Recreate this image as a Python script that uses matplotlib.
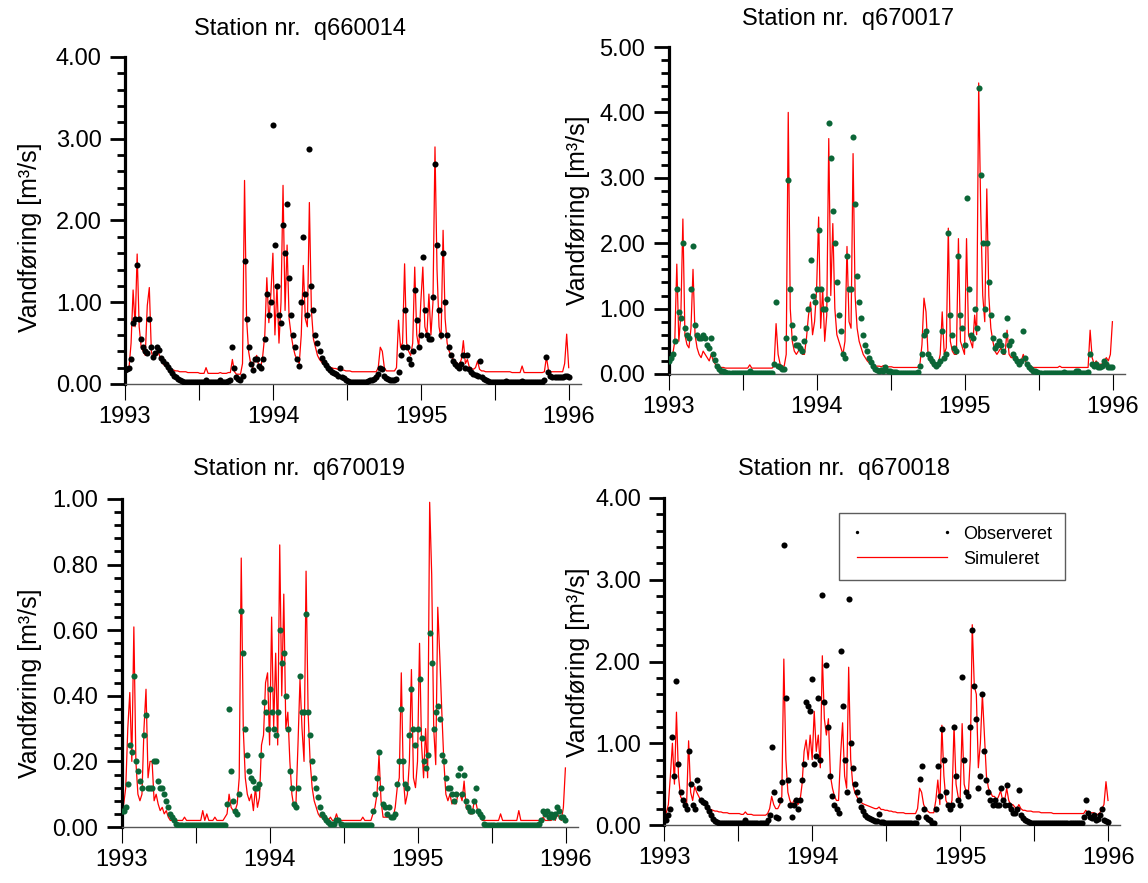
import numpy as np
import matplotlib
matplotlib.use("Agg")
import matplotlib.pyplot as plt
from matplotlib.ticker import MultipleLocator, FuncFormatter

plt.rcParams['font.family'] = ['Liberation Sans', 'DejaVu Sans']

# ---------------- data (5-day steps from 1 Jan 1993) ----------------
STEP_DAYS = 5
N_STEPS = 220
years = 1993 + np.arange(N_STEPS) * STEP_DAYS / 365.25

stations = ['q660014', 'q670017', 'q670019', 'q670018']
ylimits = [4.0, 5.0, 1.0, 4.0]
obs_colors = ['black', '#0b6637', '#0b6637', 'black']

obs_q660014 = [
    0.17, 0.18, 0.2, 0.3, 0.75, 0.8, 1.45, 0.8, 0.55, 0.45,
    0.4, 0.38, 0.8, 0.45, 0.33, 0.38, 0.45, 0.42, 0.32, 0.28,
    0.25, 0.21, 0.17, 0.13, 0.1, 0.08, 0.06, 0.05, 0.04, 0.03,
    0.03, 0.02, 0.02, 0.02, 0.02, 0.02, 0.02, 0.02, 0.02, 0.02,
    0.05, 0.02, 0.02, 0.02, 0.03, 0.02, 0.02, 0.05, 0.02, 0.02,
    0.03, 0.04, 0.05, 0.45, 0.2, 0.08, 0.06, 0.05, 0.1, 1.5,
    0.8, 0.45, 0.25, 0.17, 0.3, 0.3, 0.22, 0.2, 0.3, 0.55,
    1.1, 0.85, 1.0, 3.17, 1.7, 1.2, 0.85, 0.75, 1.95, 1.6,
    2.2, 1.3, 0.85, 0.6, 0.45, 0.3, 0.22, 1.0, 1.8, 1.1,
    0.85, 2.87, 1.2, 0.9, 0.6, 0.5, 0.4, 0.32, 0.27, 0.23,
    0.2, 0.17, 0.15, 0.13, 0.12, 0.1, 0.2, 0.09, 0.07, 0.05,
    0.04, 0.03, 0.03, 0.03, 0.03, 0.03, 0.03, 0.03, 0.03, 0.03,
    0.04, 0.05, 0.05, 0.06, 0.08, 0.12, 0.2, 0.18, 0.1, 0.07,
    0.06, 0.05, 0.05, 0.05, 0.06, 0.15, 0.35, 0.45, 0.9, 0.45,
    0.3, 0.25, 0.4, 1.15, 0.78, 0.45, 0.6, 1.55, 0.9, 0.6,
    0.55, 0.55, 1.06, 2.69, 1.7, 0.9, 0.6, 1.6, 1.0, 0.6,
    0.45, 0.35, 0.28, 0.25, 0.22, 0.2, 0.25, 0.35, 0.2, 0.35,
    0.18, 0.15, 0.12, 0.11, 0.1, 0.28, 0.08, 0.06, 0.05, 0.04,
    0.03, 0.03, 0.02, 0.02, 0.03, 0.02, 0.02, 0.02, 0.04, 0.02,
    0.02, 0.02, 0.03, 0.02, 0.02, 0.02, 0.04, 0.02, 0.02, 0.02,
    0.02, 0.03, 0.02, 0.02, 0.02, 0.02, 0.03, 0.05, 0.33, 0.15,
    0.1, 0.08, 0.08, 0.08, 0.08, 0.08, 0.08, 0.1, 0.1, 0.09,
]
sim_q660014 = [
    0.15, 0.15, 0.2, 0.5, 1.15, 0.7, 1.59, 0.7, 0.45, 0.4,
    0.35, 0.96, 1.18, 0.4, 0.3, 0.35, 0.42, 0.35, 0.28, 0.24,
    0.22, 0.2, 0.2, 0.18, 0.17, 0.16, 0.16, 0.15, 0.15, 0.15,
    0.15, 0.14, 0.14, 0.14, 0.14, 0.14, 0.14, 0.13, 0.13, 0.13,
    0.2, 0.13, 0.13, 0.13, 0.13, 0.13, 0.13, 0.14, 0.13, 0.13,
    0.13, 0.14, 0.14, 0.3, 0.15, 0.12, 0.12, 0.12, 0.25, 2.49,
    0.8, 0.4, 0.25, 0.2, 0.3, 0.35, 0.22, 0.2, 0.35, 0.6,
    1.3, 0.75, 1.1, 1.6, 0.6, 1.2, 0.5, 1.0, 2.43, 0.9,
    1.7, 0.8, 0.6, 0.45, 0.35, 0.3, 0.25, 0.6, 1.45, 0.8,
    0.7, 2.22, 0.9, 0.55, 0.45, 0.35, 0.3, 0.27, 0.24, 0.22,
    0.21, 0.2, 0.2, 0.19, 0.19, 0.18, 0.18, 0.17, 0.17, 0.16,
    0.16, 0.16, 0.15, 0.15, 0.15, 0.15, 0.15, 0.15, 0.15, 0.15,
    0.15, 0.15, 0.15, 0.15, 0.15, 0.2, 0.45, 0.4, 0.2, 0.16,
    0.16, 0.16, 0.16, 0.16, 0.2, 0.78, 0.45, 0.5, 1.47, 0.5,
    0.4, 0.35, 0.5, 1.43, 0.6, 0.45, 1.0, 1.43, 0.7, 0.6,
    1.1, 0.6, 1.0, 2.9, 1.4, 0.7, 0.55, 1.88, 0.8, 0.5,
    0.4, 0.35, 0.3, 0.28, 0.25, 0.24, 0.3, 0.53, 0.25, 0.3,
    0.2, 0.19, 0.18, 0.2, 0.28, 0.18, 0.16, 0.16, 0.15, 0.15,
    0.15, 0.15, 0.15, 0.15, 0.15, 0.15, 0.15, 0.15, 0.15, 0.15,
    0.15, 0.14, 0.14, 0.14, 0.14, 0.14, 0.22, 0.14, 0.14, 0.14,
    0.14, 0.14, 0.14, 0.14, 0.14, 0.14, 0.14, 0.15, 0.33, 0.17,
    0.15, 0.15, 0.15, 0.15, 0.15, 0.15, 0.15, 0.25, 0.61, 0.2,
]

obs_q670017 = [
    0.2, 0.25, 0.3, 0.5, 1.3, 0.95, 0.85, 2.0, 0.7, 0.6,
    0.55, 1.3, 1.95, 0.75, 0.6, 0.55, 0.55, 0.6, 0.55, 0.45,
    0.4, 0.55, 0.3, 0.22, 0.12, 0.08, 0.05, 0.04, 0.03, 0.01,
    0.01, 0.01, 0.01, 0.01, 0.01, 0.01, 0.01, 0.01, 0.01, 0.01,
    0.04, 0.01, 0.01, 0.01, 0.01, 0.01, 0.01, 0.01, 0.01, 0.01,
    0.01, 0.01, 0.15, 1.1, 0.12, 0.1, 0.07, 0.08, 0.55, 2.97,
    1.3, 0.75, 0.55, 0.45, 0.45, 0.4, 0.35, 0.5, 0.7, 1.0,
    1.75, 1.2, 1.1, 1.3, 2.2, 1.3, 1.0, 1.0, 1.15, 3.84,
    3.3, 2.5, 2.0, 1.4, 0.9, 0.65, 0.3, 0.25, 1.8, 1.3,
    1.3, 3.63, 2.6, 1.5, 1.1, 0.85, 0.6, 0.45, 0.35, 0.25,
    0.18, 0.12, 0.08, 0.06, 0.05, 0.06, 0.05, 0.1, 0.04, 0.04,
    0.03, 0.03, 0.03, 0.02, 0.02, 0.02, 0.02, 0.02, 0.02, 0.02,
    0.02, 0.02, 0.02, 0.03, 0.12, 0.3, 0.6, 0.65, 0.3, 0.25,
    0.2, 0.15, 0.12, 0.15, 0.2, 0.65, 0.25, 0.3, 2.15, 0.9,
    0.6, 0.4, 0.35, 1.8, 0.9, 0.7, 0.45, 2.69, 1.3, 0.6,
    0.55, 1.0, 0.7, 4.37, 3.04, 2.0, 1.0, 2.0, 1.4, 0.9,
    0.55, 0.4, 0.45, 0.5, 0.45, 0.35, 0.6, 0.85, 0.45, 0.5,
    0.3, 0.25, 0.2, 0.15, 0.2, 0.65, 0.25, 0.15, 0.1, 0.08,
    0.05, 0.04, 0.03, 0.02, 0.02, 0.02, 0.02, 0.02, 0.02, 0.02,
    0.02, 0.02, 0.02, 0.02, 0.02, 0.03, 0.02, 0.02, 0.02, 0.02,
    0.02, 0.05, 0.04, 0.02, 0.02, 0.02, 0.02, 0.03, 0.3, 0.15,
    0.12, 0.15, 0.1, 0.1, 0.12, 0.2, 0.15, 0.1, 0.1, 0.1,
]
sim_q670017 = [
    0.24, 0.2, 0.3, 0.5, 1.68, 0.5, 0.9, 2.37, 0.6, 0.45,
    0.4, 0.7, 1.6, 0.6, 0.4, 0.3, 0.25, 0.35, 0.3, 0.25,
    0.2, 0.3, 0.2, 0.15, 0.12, 0.11, 0.1, 0.1, 0.09, 0.09,
    0.09, 0.09, 0.09, 0.09, 0.09, 0.09, 0.09, 0.09, 0.09, 0.09,
    0.14, 0.09, 0.09, 0.09, 0.09, 0.09, 0.09, 0.09, 0.09, 0.09,
    0.09, 0.09, 0.12, 0.77, 0.3, 0.15, 0.12, 0.12, 0.3, 4.0,
    1.0, 0.5, 0.35, 0.3, 0.35, 0.4, 0.3, 0.3, 0.55, 0.9,
    1.1, 0.6, 0.8, 1.3, 2.4, 0.7, 1.3, 0.5, 0.9, 3.6,
    1.2, 2.3, 1.0, 0.6, 0.5, 0.4, 0.3, 0.5, 1.95, 0.8,
    0.7, 3.37, 1.2, 0.7, 0.5, 0.4, 0.3, 0.25, 0.2, 0.17,
    0.15, 0.14, 0.12, 0.12, 0.12, 0.11, 0.13, 0.11, 0.11, 0.11,
    0.11, 0.1, 0.1, 0.1, 0.1, 0.1, 0.1, 0.1, 0.1, 0.1,
    0.1, 0.1, 0.1, 0.1, 0.15, 0.45, 1.16, 0.95, 0.3, 0.2,
    0.15, 0.15, 0.12, 0.15, 0.3, 0.95, 0.3, 0.4, 2.23, 0.5,
    0.35, 0.3, 0.3, 2.07, 0.5, 0.4, 0.3, 2.07, 0.6, 0.5,
    0.4, 0.9, 0.6, 4.45, 2.5, 1.2, 0.8, 2.83, 1.2, 0.7,
    0.5, 0.35, 0.3, 0.35, 0.4, 0.3, 0.3, 0.67, 0.3, 0.25,
    0.25, 0.2, 0.2, 0.17, 0.2, 0.3, 0.2, 0.15, 0.12, 0.11,
    0.1, 0.1, 0.1, 0.1, 0.1, 0.1, 0.1, 0.1, 0.1, 0.1,
    0.1, 0.1, 0.1, 0.12, 0.1, 0.1, 0.1, 0.1, 0.1, 0.1,
    0.1, 0.1, 0.1, 0.1, 0.1, 0.1, 0.1, 0.1, 0.67, 0.25,
    0.15, 0.2, 0.15, 0.15, 0.15, 0.2, 0.25, 0.2, 0.3, 0.8,
]

obs_q670019 = [
    0.05, 0.05, 0.06, 0.13, 0.25, 0.23, 0.46, 0.2, 0.17, 0.14,
    0.12, 0.28, 0.34, 0.12, 0.12, 0.12, 0.2, 0.2, 0.14, 0.12,
    0.12, 0.1, 0.08, 0.06, 0.04, 0.03, 0.02, 0.01, 0.005, 0.005,
    0.005, 0.005, 0.005, 0.005, 0.005, 0.005, 0.005, 0.005, 0.005, 0.005,
    0.005, 0.005, 0.005, 0.005, 0.005, 0.005, 0.005, 0.005, 0.005, 0.005,
    0.005, 0.005, 0.07, 0.36, 0.17, 0.08, 0.05, 0.04, 0.1, 0.66,
    0.53, 0.3, 0.22, 0.17, 0.15, 0.14, 0.12, 0.12, 0.13, 0.22,
    0.38, 0.35, 0.3, 0.42, 0.35, 0.3, 0.28, 0.35, 0.6, 0.5,
    0.53, 0.4, 0.3, 0.17, 0.12, 0.07, 0.06, 0.12, 0.46, 0.35,
    0.35, 0.65, 0.35, 0.28, 0.2, 0.15, 0.12, 0.09, 0.06, 0.04,
    0.03, 0.02, 0.015, 0.01, 0.01, 0.01, 0.02, 0.02, 0.01, 0.005,
    0.005, 0.005, 0.005, 0.005, 0.005, 0.005, 0.005, 0.005, 0.005, 0.005,
    0.005, 0.005, 0.005, 0.005, 0.05, 0.1, 0.15, 0.23, 0.12, 0.07,
    0.06, 0.04, 0.06, 0.03, 0.03, 0.04, 0.13, 0.2, 0.36, 0.2,
    0.13, 0.12, 0.28, 0.42, 0.3, 0.25, 0.3, 0.45, 0.27, 0.2,
    0.18, 0.22, 0.59, 0.5, 0.3, 0.35, 0.37, 0.33, 0.22, 0.2,
    0.15, 0.12, 0.12, 0.1, 0.08, 0.1, 0.16, 0.18, 0.1, 0.16,
    0.08, 0.06, 0.05, 0.05, 0.08, 0.12, 0.05, 0.04, 0.03, 0.01,
    0.005, 0.005, 0.005, 0.005, 0.005, 0.005, 0.005, 0.005, 0.005, 0.005,
    0.005, 0.005, 0.005, 0.005, 0.005, 0.005, 0.005, 0.005, 0.005, 0.005,
    0.005, 0.005, 0.005, 0.005, 0.005, 0.005, 0.01, 0.02, 0.05, 0.04,
    0.05, 0.03, 0.04, 0.03, 0.04, 0.06, 0.05, 0.03, 0.03, 0.02,
]
sim_q670019 = [
    0.05, 0.07, 0.12, 0.3, 0.41, 0.2, 0.61, 0.2, 0.1, 0.08,
    0.1, 0.3, 0.42, 0.15, 0.2, 0.2, 0.08, 0.1, 0.07, 0.05,
    0.06, 0.04, 0.05, 0.03, 0.02, 0.02, 0.02, 0.02, 0.02, 0.02,
    0.02, 0.03, 0.02, 0.02, 0.02, 0.02, 0.02, 0.02, 0.02, 0.02,
    0.05, 0.02, 0.04, 0.02, 0.02, 0.02, 0.03, 0.02, 0.02, 0.02,
    0.02, 0.03, 0.04, 0.1, 0.06, 0.05, 0.05, 0.07, 0.15, 0.82,
    0.3, 0.15, 0.1, 0.08, 0.1, 0.05, 0.12, 0.06, 0.09, 0.25,
    0.28, 0.44, 0.47, 0.25, 0.64, 0.3, 0.53, 0.25, 0.86, 0.4,
    0.71, 0.3, 0.35, 0.2, 0.1, 0.06, 0.07, 0.25, 0.45, 0.3,
    0.2, 0.78, 0.35, 0.2, 0.12, 0.08, 0.06, 0.04, 0.03, 0.03,
    0.02, 0.03, 0.02, 0.03, 0.02, 0.02, 0.04, 0.02, 0.02, 0.02,
    0.02, 0.02, 0.02, 0.02, 0.02, 0.02, 0.02, 0.02, 0.02, 0.03,
    0.02, 0.02, 0.02, 0.02, 0.04, 0.06, 0.1, 0.22, 0.08, 0.03,
    0.03, 0.03, 0.03, 0.03, 0.03, 0.06, 0.12, 0.15, 0.47, 0.15,
    0.07, 0.1, 0.2, 0.48, 0.15, 0.12, 0.2, 0.56, 0.25, 0.15,
    0.3, 0.15, 0.99, 0.77, 0.3, 0.19, 0.67, 0.52, 0.35, 0.2,
    0.1, 0.08, 0.1, 0.07, 0.08, 0.07, 0.1, 0.1, 0.08, 0.14,
    0.06, 0.05, 0.04, 0.04, 0.08, 0.07, 0.04, 0.03, 0.02, 0.02,
    0.02, 0.02, 0.02, 0.02, 0.02, 0.02, 0.02, 0.04, 0.02, 0.02,
    0.02, 0.02, 0.02, 0.02, 0.02, 0.02, 0.05, 0.02, 0.02, 0.02,
    0.02, 0.02, 0.02, 0.02, 0.02, 0.02, 0.02, 0.02, 0.03, 0.02,
    0.02, 0.02, 0.02, 0.03, 0.02, 0.04, 0.03, 0.02, 0.06, 0.18,
]

obs_q670018 = [
    0.08, 0.06, 0.12, 0.2, 1.08, 0.6, 1.76, 0.75, 0.4, 0.3,
    0.25, 0.2, 0.9, 0.5, 0.25, 0.2, 0.55, 0.45, 0.3, 0.28,
    0.27, 0.22, 0.17, 0.12, 0.07, 0.05, 0.04, 0.03, 0.02, 0.02,
    0.02, 0.02, 0.02, 0.02, 0.02, 0.02, 0.02, 0.02, 0.02, 0.02,
    0.06, 0.02, 0.02, 0.02, 0.02, 0.02, 0.02, 0.02, 0.02, 0.02,
    0.02, 0.06, 0.12, 0.96, 0.4, 0.1, 0.08, 0.3, 0.53, 3.43,
    1.55, 0.55, 0.25, 0.1, 0.25, 0.3, 0.2, 0.3, 0.55, 0.75,
    1.5, 1.45, 1.4, 1.79, 0.75, 0.85, 1.55, 0.8, 2.81, 1.5,
    1.96, 1.2, 0.6, 0.35, 0.25, 0.2, 0.15, 2.13, 1.45, 0.8,
    0.4, 2.77, 1.0, 0.7, 0.5, 0.4, 0.3, 0.22, 0.17, 0.12,
    0.1, 0.08, 0.07, 0.06, 0.05, 0.05, 0.14, 0.04, 0.04, 0.03,
    0.03, 0.02, 0.02, 0.02, 0.02, 0.02, 0.02, 0.02, 0.02, 0.02,
    0.02, 0.02, 0.02, 0.02, 0.02, 0.1, 0.56, 0.72, 0.2, 0.1,
    0.07, 0.06, 0.03, 0.03, 0.2, 0.72, 0.35, 1.18, 0.8, 0.4,
    0.25, 0.2, 0.25, 1.2, 0.6, 0.3, 0.25, 1.81, 0.8, 0.4,
    0.35, 1.2, 2.39, 1.7, 1.3, 0.45, 0.6, 1.6, 0.9, 0.55,
    0.4, 0.3, 0.25, 0.3, 0.25, 0.25, 0.45, 0.3, 0.25, 0.49,
    0.25, 0.2, 0.15, 0.15, 0.2, 0.43, 0.12, 0.08, 0.06, 0.05,
    0.04, 0.03, 0.02, 0.02, 0.02, 0.02, 0.02, 0.02, 0.02, 0.02,
    0.02, 0.02, 0.02, 0.02, 0.02, 0.02, 0.02, 0.02, 0.02, 0.02,
    0.02, 0.02, 0.02, 0.02, 0.02, 0.03, 0.03, 0.1, 0.31, 0.15,
    0.1, 0.08, 0.12, 0.06, 0.07, 0.12, 0.2, 0.06, 0.05, 0.04,
]
sim_q670018 = [
    0.15, 0.15, 0.25, 0.6, 1.0, 0.5, 1.38, 0.6, 0.35, 0.3,
    0.25, 0.25, 1.03, 0.4, 0.3, 0.47, 0.4, 0.35, 0.3, 0.27,
    0.25, 0.22, 0.2, 0.19, 0.18, 0.17, 0.17, 0.16, 0.16, 0.15,
    0.15, 0.15, 0.14, 0.14, 0.14, 0.14, 0.14, 0.14, 0.13, 0.13,
    0.16, 0.13, 0.13, 0.13, 0.12, 0.12, 0.12, 0.12, 0.12, 0.12,
    0.12, 0.14, 0.2, 0.35, 0.25, 0.2, 0.2, 0.25, 0.35, 2.03,
    0.8, 0.4, 0.3, 0.25, 0.3, 0.3, 0.25, 0.3, 0.5, 0.9,
    1.04, 0.8, 1.1, 0.8, 1.39, 0.9, 1.1, 0.7, 2.07, 1.3,
    1.1, 1.3, 0.6, 0.45, 0.35, 0.3, 0.3, 0.85, 1.25, 0.6,
    0.45, 1.93, 0.8, 0.5, 0.4, 0.35, 0.3, 0.28, 0.26, 0.25,
    0.24, 0.23, 0.22, 0.21, 0.2, 0.2, 0.22, 0.19, 0.19, 0.18,
    0.18, 0.17, 0.17, 0.16, 0.16, 0.15, 0.15, 0.15, 0.15, 0.14,
    0.14, 0.14, 0.14, 0.14, 0.14, 0.2, 0.45, 0.4, 0.25, 0.2,
    0.17, 0.15, 0.15, 0.15, 0.3, 0.55, 0.25, 1.22, 0.6, 0.3,
    0.25, 0.22, 0.3, 1.22, 0.5, 0.35, 0.3, 1.24, 0.5, 0.4,
    0.35, 0.8, 2.45, 1.7, 1.6, 0.7, 1.0, 1.6, 1.1, 0.6,
    0.45, 0.4, 0.35, 0.35, 0.3, 0.35, 0.42, 0.3, 0.3, 0.45,
    0.3, 0.25, 0.25, 0.22, 0.2, 0.25, 0.2, 0.18, 0.18, 0.17,
    0.17, 0.17, 0.16, 0.16, 0.16, 0.16, 0.15, 0.15, 0.15, 0.15,
    0.15, 0.15, 0.14, 0.14, 0.14, 0.14, 0.14, 0.14, 0.14, 0.14,
    0.14, 0.14, 0.14, 0.14, 0.14, 0.14, 0.14, 0.14, 0.18, 0.15,
    0.14, 0.15, 0.15, 0.13, 0.13, 0.15, 0.2, 0.25, 0.53, 0.3,
]

observed = [obs_q660014, obs_q670017, obs_q670019, obs_q670018]
simulated = [sim_q660014, sim_q670017, sim_q670019, sim_q670018]

year_labels = ['1993', '1994', '1995', '1996']

# ---------------- layout ----------------
W, H = 1148, 883
fig = plt.figure(figsize=(W / 100, H / 100), dpi=100)

def px_axes(left, top, bottom, width=456):
    return fig.add_axes([left / W, (H - bottom) / H, width / W, (bottom - top) / H])

axes = [
    px_axes(125, 57, 384),
    px_axes(668.7, 47, 374),
    px_axes(121.7, 499, 827),
    px_axes(664.3, 498, 825),
]

title_pos = [(300, 29), (848, 19), (299, 469), (844, 469)]
ylabel_pos = [(30, 237), (578, 210), (30, 683), (578, 662)]

major_step = [1.0, 1.0, 0.2, 1.0]
minor_step = [0.2, 0.2, 0.04, 0.2]

FS = 17

for k, ax in enumerate(axes):
    obs = np.array(observed[k])
    sim = np.array(simulated[k])
    ln, = ax.plot(years, sim, color='#ff0000', lw=0.9, zorder=2, label='Simuleret')
    pt, = ax.plot(years, obs, linestyle='none', marker='o', ms=4.4, mew=0,
                  color=obs_colors[k], zorder=3, label='Observeret')

    ax.set_xlim(1993, 1996.081)
    ax.set_ylim(0, ylimits[k])

    for s in ['top', 'right']:
        ax.spines[s].set_visible(False)
    ax.spines['left'].set_linewidth(2.3)
    ax.spines['left'].set_color('black')
    ax.spines['bottom'].set_linewidth(1.0)
    ax.spines['bottom'].set_color('#555555')

    ax.yaxis.set_major_locator(MultipleLocator(major_step[k]))
    ax.yaxis.set_minor_locator(MultipleLocator(minor_step[k]))
    ax.yaxis.set_major_formatter(FuncFormatter(lambda v, p: f'{v:.2f}'))
    ax.tick_params(axis='y', which='major', direction='out', length=10.8, width=2.0,
                   labelsize=FS, pad=6)
    ax.tick_params(axis='y', which='minor', direction='out', length=5.5, width=2.0)

    ax.xaxis.set_major_locator(MultipleLocator(0.5))
    ax.xaxis.set_minor_locator(plt.NullLocator())
    ax.xaxis.set_major_formatter(FuncFormatter(
        lambda v, p: year_labels[int(round(v)) - 1993]
        if abs(v - round(v)) < 1e-6 and 1993 <= round(v) <= 1996 else ''))
    ax.tick_params(axis='x', which='major', direction='out', length=11.5, width=0.8,
                   labelsize=FS, pad=4)

    tx, ty = title_pos[k]
    fig.text(tx / W, 1 - ty / H, 'Station nr.  ' + stations[k], ha='center', va='center',
             fontsize=FS)
    lx, ly = ylabel_pos[k]
    fig.text(lx / W, 1 - ly / H, 'Vandføring [m³/s]', ha='center', va='center',
             rotation=90, fontsize=FS + 1)

    if k == 3:
        leg = ax.legend(handles=[pt, ln], loc='upper left',
                        bbox_to_anchor=((839 - 664.3) / 456, (825 - 513) / 327),
                        numpoints=2, markerscale=0.55, handlelength=5.6,
                        handletextpad=0.6, fontsize=13, frameon=True, fancybox=False,
                        borderpad=0.7, labelspacing=0.45, borderaxespad=0)
        leg.get_frame().set_edgecolor('#333333')
        leg.get_frame().set_linewidth(1.0)

fig.savefig('out.png', dpi=100)
